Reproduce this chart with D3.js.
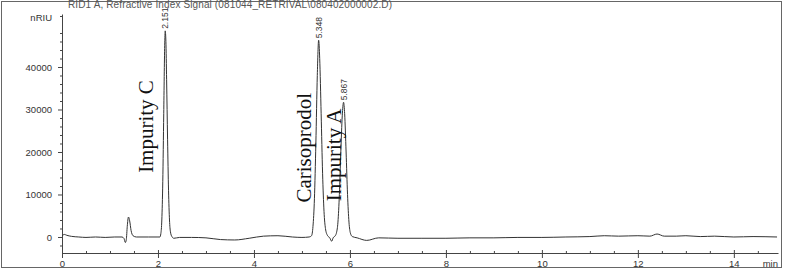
<!DOCTYPE html>
<html>
<head>
<meta charset="utf-8">
<script src="https://cdn.jsdelivr.net/npm/d3@7"></script>
<style>
  body { margin: 0; background: #fff; }
  svg { display: block; }
  .axis text { font-family: "Liberation Sans", Arial, sans-serif; font-size: 9.5px; fill: #333; }
  .axis path, .axis line { stroke: #444; }
</style>
</head>
<body>
<svg id="chart" width="785" height="269"></svg>
<script>
// Chromatogram trace (time in min, signal in nRIU)
var times = [0.00, 0.05, 0.10, 0.20, 0.35, 0.50, 0.70, 0.90, 1.10, 1.25,
  1.29, 1.32, 1.34, 1.36, 1.385, 1.41, 1.44, 1.48, 1.55, 1.80,
  2.00, 2.04, 2.06, 2.08, 2.10, 2.12, 2.14, 2.151, 2.165, 2.18,
  2.20, 2.22, 2.24, 2.26, 2.29, 2.33, 2.45, 2.70, 3.00, 3.30,
  3.60, 3.90, 4.20, 4.50, 4.80, 5.00, 5.15, 5.20, 5.23, 5.26,
  5.29, 5.32, 5.348, 5.37, 5.40, 5.43, 5.46, 5.49, 5.53, 5.58,
  5.62, 5.65, 5.70, 5.72, 5.75, 5.78, 5.81, 5.84, 5.867, 5.89,
  5.92, 5.95, 5.98, 6.01, 6.05, 6.15, 6.35, 6.60, 7.00, 7.50,
  8.00, 8.50, 9.00, 9.50, 10.00, 10.50, 11.00, 11.30, 11.60, 12.00,
  12.25, 12.40, 12.55, 12.80, 13.00, 13.30, 13.60, 14.00, 14.40, 14.90];
var signal = [300, 600, 400, 150, 0, -100, 0, -100, 0, 0,
  -300, -1300, -600, 2500, 4700, 3800, 1500, 300, 0, 0,
  0, 0, 800, 4000, 13000, 29000, 45000, 48500, 46000, 37000,
  23000, 11000, 4000, 1200, 100, -300, -100, -100, -200, -600,
  -700, -300, 200, 300, 0, -100, 0, 300, 2500, 9000,
  22000, 38000, 46300, 42000, 29000, 15000, 6000, 2000, 400, -200,
  -1000, -200, 400, 1000, 3500, 10000, 20000, 28500, 31700, 29000,
  20000, 10000, 3500, 900, 100, -200, -800, -200, -300, -300,
  -300, -200, -200, -100, -100, 0, 100, 300, 200, 300,
  200, 700, 200, 200, 300, 100, 200, 0, 100, 0];

// Retention time labels above the peaks
var peakTimes = [2.151, 5.348, 5.867];
var peakHeights = [48500, 46300, 31700];
var peakLabels = ["2.151", "5.348", "5.867"];

// Hand written compound names
var compoundNames = ["Impurity C", "Carisoprodol", "Impurity A"];
var compoundX = [1.90, 5.18, 5.82];
var compoundY = [26000, 21000, 19300];

var yMajor = [0, 10000, 20000, 30000, 40000];
var xMajor = [0, 2, 4, 6, 8, 10, 12, 14];

var title = "RID1 A, Refractive Index Signal (081044_RETRIVAL\\080402000002.D)";

var svg = d3.select("#chart");

var x = d3.scaleLinear().domain([0, 14.92]).range([62, 778]);
var y = d3.scaleLinear().domain([-3765, 52470]).range([253, 14]);

// outer frame
svg.append("rect")
  .attr("x", 1.5).attr("y", 1.5)
  .attr("width", 780).attr("height", 266)
  .attr("fill", "none")
  .attr("stroke", "#666");

// title
svg.append("text")
  .attr("x", 68).attr("y", 8)
  .attr("textLength", 324)
  .style("font-family", "Liberation Sans, Arial, sans-serif")
  .style("font-size", "10px")
  .style("fill", "#555")
  .text(title);

// y axis, minor ticks every 2000
var yMinor = d3.range(-2000, 52001, 2000).filter(function(d) { return d % 10000 !== 0; });
svg.append("g")
  .attr("class", "axis")
  .attr("transform", "translate(62,0)")
  .call(d3.axisLeft(y).tickValues(yMinor).tickSize(2).tickSizeOuter(0).tickFormat(""));

svg.append("g")
  .attr("class", "axis")
  .attr("transform", "translate(62,0)")
  .call(d3.axisLeft(y).tickValues(yMajor).tickSize(4).tickSizeOuter(0).tickPadding(6).tickFormat(d3.format("d")))
  .call(function(g) { g.select(".domain").remove(); });

svg.append("text")
  .attr("x", 52).attr("y", 21)
  .attr("text-anchor", "end")
  .style("font-family", "Liberation Sans, Arial, sans-serif")
  .style("font-size", "9.5px")
  .style("fill", "#333")
  .text("nRIU");

// x axis, minor ticks every half minute pointing up
var xMinor = d3.range(0.5, 14.9, 0.5).filter(function(d) { return d % 2 !== 0; });
svg.append("g")
  .attr("class", "axis")
  .attr("transform", "translate(0,253)")
  .call(d3.axisTop(x).tickValues(xMinor).tickSize(2).tickSizeOuter(0).tickFormat(""));

var xAxis = svg.append("g")
  .attr("class", "axis")
  .attr("transform", "translate(0,253)")
  .call(d3.axisBottom(x).tickValues(xMajor).tickSize(5).tickSizeOuter(0).tickFormat(d3.format("d")));
xAxis.select(".domain").remove();
xAxis.selectAll(".tick line").attr("y1", -3);
xAxis.selectAll(".tick text").attr("y", 14).attr("dy", null);

svg.append("text")
  .attr("x", 778).attr("y", 267)
  .attr("text-anchor", "end")
  .style("font-family", "Liberation Sans, Arial, sans-serif")
  .style("font-size", "9.5px")
  .style("fill", "#333")
  .text("min");

// trace
var trace = times.map(function(t, i) { return [t, signal[i]]; });
var line = d3.line()
  .x(function(d) { return x(d[0]); })
  .y(function(d) { return y(d[1]); })
  .curve(d3.curveMonotoneX);

svg.append("path")
  .datum(trace)
  .attr("fill", "none")
  .attr("stroke", "#333")
  .attr("stroke-width", 1)
  .attr("d", line);

// retention time labels
svg.selectAll(".rt")
  .data(peakLabels)
  .enter().append("text")
  .attr("class", "rt")
  .attr("transform", function(d, i) {
    return "translate(" + (x(peakTimes[i]) + 3) + "," + (y(peakHeights[i]) - 2) + ") rotate(-90)";
  })
  .style("font-family", "Liberation Sans, Arial, sans-serif")
  .style("font-size", "8.5px")
  .style("fill", "#333")
  .text(function(d) { return d; });

// compound names
svg.selectAll(".name")
  .data(compoundNames)
  .enter().append("text")
  .attr("class", "name")
  .attr("text-anchor", "middle")
  .attr("transform", function(d, i) {
    return "translate(" + x(compoundX[i]) + "," + y(compoundY[i]) + ") rotate(-90)";
  })
  .style("font-family", "Liberation Serif, Times New Roman, serif")
  .style("font-size", "21px")
  .style("fill", "#111")
  .text(function(d) { return d; });
</script>
</body>
</html>
